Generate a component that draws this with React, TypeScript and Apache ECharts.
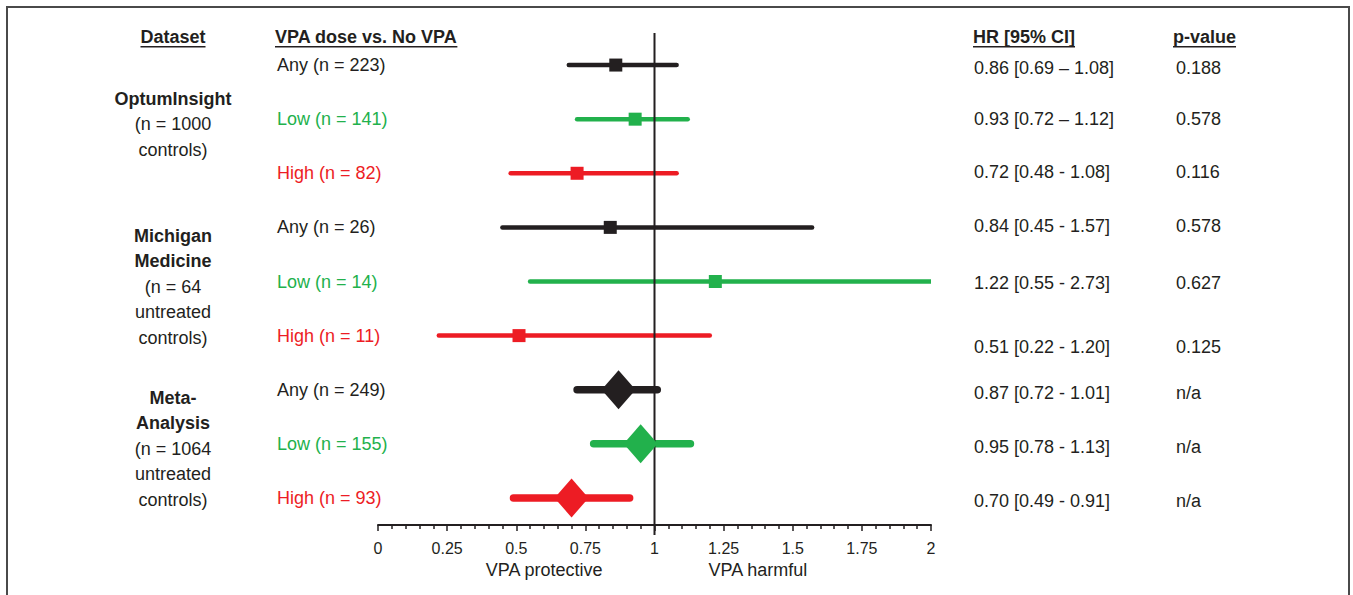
import React, { useEffect, useRef } from "react";
import * as echarts from "echarts";

// ---------- data ----------
const rowLabels = [
  "Any (n = 223)", "Low (n = 141)", "High (n = 82)",
  "Any (n = 26)", "Low (n = 14)", "High (n = 11)",
  "Any (n = 249)", "Low (n = 155)", "High (n = 93)",
];
const doseLevel = ["any", "low", "high", "any", "low", "high", "any", "low", "high"];
const hrValues = [0.86, 0.93, 0.72, 0.84, 1.22, 0.51, 0.87, 0.95, 0.70];
const ciLower = [0.69, 0.72, 0.48, 0.45, 0.55, 0.22, 0.72, 0.78, 0.49];
const ciUpper = [1.08, 1.12, 1.08, 1.57, 2.73, 1.20, 1.01, 1.13, 0.91];
const isMeta = [false, false, false, false, false, false, true, true, true];
const hrTexts = [
  "0.86 [0.69 \u2013 1.08]", "0.93 [0.72 \u2013 1.12]", "0.72 [0.48 - 1.08]",
  "0.84 [0.45 - 1.57]", "1.22 [0.55 - 2.73]", "0.51 [0.22 - 1.20]",
  "0.87 [0.72 - 1.01]", "0.95 [0.78 - 1.13]", "0.70 [0.49 - 0.91]",
];
const pValues = ["0.188", "0.578", "0.116", "0.578", "0.627", "0.125", "n/a", "n/a", "n/a"];
const groupLines: [string, boolean][][] = [
  [["OptumInsight", true], ["(n = 1000", false], ["controls)", false]],
  [["Michigan", true], ["Medicine", true], ["(n = 64", false], ["untreated", false], ["controls)", false]],
  [["Meta-", true], ["Analysis", true], ["(n = 1064", false], ["untreated", false], ["controls)", false]],
];
const groupCenterRow = [2, 5, 8];
const headers = ["Dataset", "VPA dose vs. No VPA", "HR [95% CI]", "p-value"];
const xTickMin = 0;
const xTickMax = 2;
const xTickStep = 0.25;
const axisTitles = ["VPA protective", "VPA harmful"];

// ---------- styling / layout ----------
const COLORS: Record<string, string> = { any: "#231f20", low: "#22b14c", high: "#ed1c24" };
const INK = "#231f20";
const FONT = "'Liberation Sans', Arial, sans-serif";
const FS = 18;
const hrTextNudge = [3, 0, -1, -1, 1, 11, 3, 3, 3];

function measure(text: string, bold: boolean): number {
  const c = document.createElement("canvas").getContext("2d");
  if (!c) return text.length * 9;
  c.font = `${bold ? "bold " : ""}${FS}px ${FONT}`;
  return c.measureText(text).width;
}

export default function App() {
  const ref = useRef<HTMLDivElement>(null);

  useEffect(() => {
    if (!ref.current) return;
    const chart = echarts.init(ref.current, null, { renderer: "svg" });

    const scatterData = hrValues.map((v, i) => ({
      value: [v, i + 1],
      symbol: isMeta[i] ? "diamond" : "rect",
      symbolSize: isMeta[i] ? [34, 39] : [13, 13],
      itemStyle: { color: COLORS[doseLevel[i]], opacity: 1 },
    }));
    const ciData = hrValues.map((_, i) => [i + 1, ciLower[i], ciUpper[i]]);

    chart.setOption({
      animation: false,
      backgroundColor: "#ffffff",
      grid: { left: 378, right: 422, top: 38, bottom: 70 },
      xAxis: {
        type: "value",
        min: xTickMin,
        max: xTickMax,
        interval: xTickStep,
        axisLine: { show: true, lineStyle: { color: INK, width: 2 } },
        axisTick: { show: true, length: 6, lineStyle: { color: INK, width: 1.5 } },
        minorTick: { show: true, splitNumber: 5, length: 4, lineStyle: { color: INK, width: 1.5 } },
        axisLabel: { color: INK, fontSize: 16, fontFamily: FONT, margin: 15 },
        splitLine: { show: false },
      },
      yAxis: {
        type: "value",
        min: 0.5,
        max: 9.5,
        inverse: true,
        show: false,
      },
      series: [
        {
          type: "custom",
          clip: true,
          z: 2,
          data: ciData,
          renderItem: (params: any, api: any) => {
            const i = params.dataIndex;
            const y = api.value(0);
            const p1 = api.coord([api.value(1), y]);
            const p2 = api.coord([api.value(2), y]);
            return {
              type: "line",
              shape: { x1: p1[0], y1: p1[1], x2: p2[0], y2: p2[1] },
              style: {
                stroke: COLORS[doseLevel[i]],
                lineWidth: isMeta[i] ? 7.5 : 4.5,
                lineCap: "round",
              },
            };
          },
        },
        {
          type: "scatter",
          z: 5,
          data: scatterData,
        },
      ],
    });

    const xPix = (v: number) => chart.convertToPixel({ xAxisIndex: 0 }, v) as number;
    const yPix = (r: number) => chart.convertToPixel({ yAxisIndex: 0 }, r) as number;

    const txt = (text: string, x: number, y: number, opts: any = {}) => ({
      type: "text",
      x,
      y,
      z: 10,
      style: {
        text,
        fill: opts.fill || INK,
        fontSize: opts.fontSize || FS,
        fontFamily: FONT,
        fontWeight: opts.bold ? "bold" : "normal",
        align: opts.align || "left",
        verticalAlign: "middle",
        textAlign: opts.align || "left",
        textVerticalAlign: "middle",
      },
    });

    const g: any[] = [];
    // frame
    g.push({
      type: "rect",
      shape: { x: 7, y: 7, width: 1342, height: 620 },
      style: { fill: "none", stroke: "#4a4a4a", lineWidth: 2 },
      z: 1,
    });
    // reference line at HR = 1
    const x1 = xPix(1);
    g.push({
      type: "line",
      shape: { x1, y1: yPix(0.5) - 5, x2: x1, y2: yPix(9.5) + 10 },
      style: { stroke: INK, lineWidth: 2 },
      z: 3,
    });

    // headers
    const headerY = 37;
    const headerX = [173, 275, 973, 1173];
    const headerAlign = ["center", "left", "left", "left"];
    headers.forEach((h, k) => {
      g.push(txt(h, headerX[k], headerY, { bold: true, align: headerAlign[k] }));
      const w = measure(h, true);
      const left = headerAlign[k] === "center" ? headerX[k] - w / 2 : headerX[k];
      g.push({
        type: "rect",
        shape: { x: left, y: headerY + 9, width: w, height: 1.5 },
        style: { fill: INK },
        z: 10,
      });
    });

    // rows
    rowLabels.forEach((lab, i) => {
      const y = yPix(i + 1);
      g.push(txt(lab, 277, y, { fill: COLORS[doseLevel[i]] }));
      g.push(txt(hrTexts[i], 974, y + hrTextNudge[i]));
      g.push(txt(pValues[i], 1176, y + hrTextNudge[i]));
    });

    // dataset groups
    groupLines.forEach((lines, k) => {
      const cy = yPix(groupCenterRow[k]) + 5;
      const lh = 25.5;
      const top = cy - ((lines.length - 1) * lh) / 2;
      lines.forEach(([t, b], j) => {
        g.push(txt(t, 173, top + j * lh, { bold: b, align: "center" }));
      });
    });

    // axis titles
    const ay = yPix(9.5) + 45;
    g.push(txt(axisTitles[0], x1 - 52, ay, { align: "right" }));
    g.push(txt(axisTitles[1], x1 + 54, ay, { align: "left" }));

    chart.setOption({ graphic: g });

    return () => chart.dispose();
  }, []);

  return (
    <div
      ref={ref}
      style={{ position: "fixed", left: 0, top: 0, width: 1353, height: 595, background: "#fff" }}
    />
  );
}
